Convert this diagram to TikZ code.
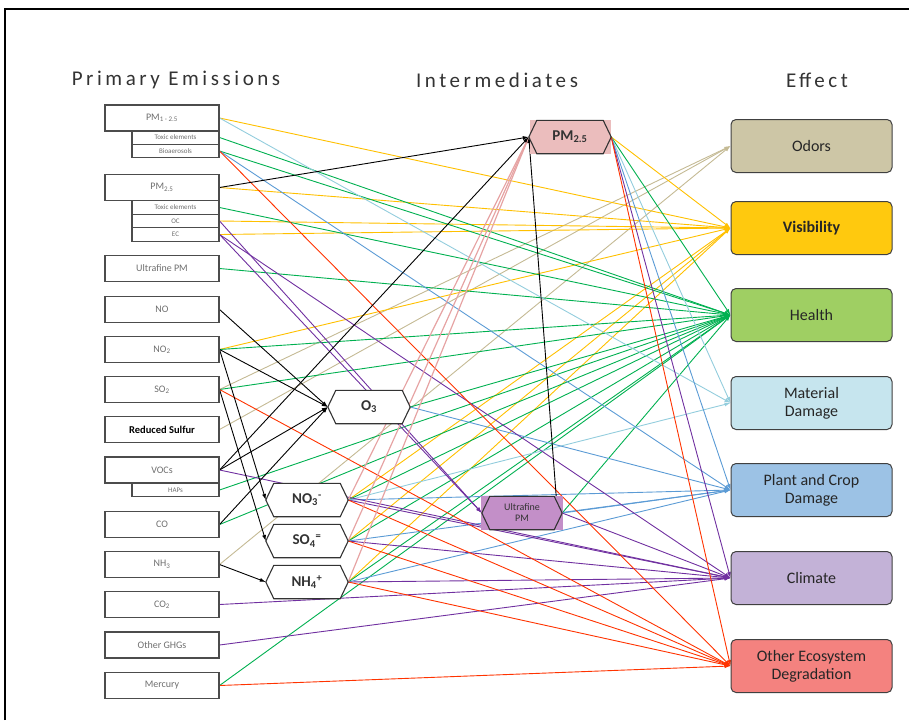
\documentclass[tikz,border=0pt]{standalone}
\usepackage{fontspec}
\setmainfont{Carlito}
\newfontfamily\headfont[LetterSpace=17]{Carlito}
\usepackage{tikz}
\usetikzlibrary{positioning}
\usetikzlibrary{arrows.meta}

\definecolor{cOdor}{HTML}{C4BA94}
\definecolor{cVis}{HTML}{FFC000}
\definecolor{cHealth}{HTML}{00B050}
\definecolor{cMat}{HTML}{93CDDD}
\definecolor{cPlant}{HTML}{5B9BD5}
\definecolor{cClim}{HTML}{7030A0}
\definecolor{cEco}{HTML}{FF3300}
\definecolor{cPink}{HTML}{E6A3A3}
\definecolor{fOdor}{HTML}{CDC6A6}
\definecolor{fVis}{HTML}{FFC90E}
\definecolor{fHealth}{HTML}{9FCF63}
\definecolor{fMat}{HTML}{C6E5EE}
\definecolor{fPlant}{HTML}{9CC2E5}
\definecolor{fClim}{HTML}{C3B2D7}
\definecolor{fEco}{HTML}{F4827F}
\definecolor{fPm}{HTML}{EBBDBD}
\definecolor{fUf}{HTML}{C38FC8}
\definecolor{txtgray}{HTML}{6E6E6E}

\pgfdeclarelayer{links}
\pgfdeclarelayer{shapes}
\pgfsetlayers{links,shapes,main}

% hexagon: name, position, fill, text
\newcommand{\hexnode}[4]{%
  \node[hexlabel] (#1) at (#2) {#4};
  \begin{pgfonlayer}{shapes}
    \draw[hexline, fill=#3] (#1.west) -- ([xshift=8pt]#1.north west)
      -- ([xshift=-8pt]#1.north east) -- (#1.east)
      -- ([xshift=-8pt]#1.south east) -- ([xshift=8pt]#1.south west) -- cycle;
  \end{pgfonlayer}}

\begin{document}
\begin{tikzpicture}[x=1pt,y=-1pt]
    \tikzstyle{src}=[draw=black!70, line width=1.1pt, minimum width=114pt, minimum height=26pt,
      inner sep=0pt, text=txtgray, font=\fontsize{10}{11}\selectfont]
    \tikzstyle{sub}=[src, minimum width=87pt, minimum height=13.5pt, font=\fontsize{7}{7}\selectfont]
    \tikzstyle{hexlabel}=[minimum width=82pt, minimum height=33pt, inner sep=0pt,
      font=\fontsize{15}{16}\selectfont\bfseries, text=black!80]
    \tikzstyle{hexline}=[draw=black!80, line width=1.1pt]
    \tikzstyle{eff}=[draw=black!75, line width=1pt, rounded corners=5pt, minimum width=161pt,
      minimum height=53pt, align=center, font=\fontsize{16}{18}\selectfont, text=black!85]
    \tikzstyle{head}=[font=\headfont\fontsize{21}{23}\selectfont, text=black!80]
    \tikzstyle{link}=[line width=0.9pt, -{Latex[length=6pt,width=4pt]}]

    \useasboundingbox (0,0) rectangle (909,720);
    \draw[line width=2.5pt] (5,720) -- (5,9) -- (909,9);

    \node[head] (thead1) at (176,80) {Primary Emissions};
    \node[head] (thead2) at (497,80) {Intermediates};
    \node[head] (thead3) at (817,80) {Effect};

    % primary emissions
    \node[src] (pma) at (162,118) {PM\textsubscript{1 - 2.5}};
    \node[sub] (pmat) at (175.5,137.5) {Toxic elements};
    \node[sub] (pmab) at (175.5,151) {Bioaerosols};
    \node[src] (pmb) at (162,187.5) {PM\textsubscript{2.5}};
    \node[sub] (pmbt) at (175.5,207.5) {Toxic elements};
    \node[sub] (pmboc) at (175.5,221) {OC};
    \node[sub] (pmbec) at (175.5,234.5) {EC};
    \foreach \name/\y/\txt in {ufp/268.5/Ultrafine PM, no/309.5/NO, notwo/349.5/NO\textsubscript{2},
        sotwo/389.5/SO\textsubscript{2}, voc/470/VOCs, co/524.5/CO, nh/564.5/NH\textsubscript{3},
        cotwo/604.5/CO\textsubscript{2}, ghg/645/Other GHGs, hg/685.5/Mercury} {
      \node[src] (\name) at (162,\y) {\txt};
    }
    \node[src, text=black, font=\fontsize{10.5}{11}\selectfont\bfseries] (rs) at (162,429.5) {Reduced Sulfur};
    \node[sub] (haps) at (175.5,490) {HAPs};

    % intermediates
    \begin{pgfonlayer}{shapes}
      \fill[fPm] (530,120) rectangle (611,154);
      \fill[fUf] (481,496) rectangle (563,530);
    \end{pgfonlayer}
    \hexnode{pmi}{570,137}{fPm}{PM\textsubscript{2.5}}
    \hexnode{othree}{369,407}{white}{O\textsubscript{3}}
    \hexnode{nothree}{307,500}{white}{NO\textsubscript{3}\textsuperscript{-}}
    \hexnode{sofour}{307,541}{white}{SO\textsubscript{4}\textsuperscript{=}}
    \hexnode{nhfour}{307,582}{white}{NH\textsubscript{4}\textsuperscript{+}}
    \node[hexlabel, minimum width=80pt, align=center, font=\fontsize{10}{11}\selectfont] (ufi) at (522,513) {Ultrafine\\PM};
    \begin{pgfonlayer}{shapes}
      \draw[hexline, fill=fUf] (ufi.west) -- ([xshift=8pt]ufi.north west)
        -- ([xshift=-8pt]ufi.north east) -- (ufi.east)
        -- ([xshift=-8pt]ufi.south east) -- ([xshift=8pt]ufi.south west) -- cycle;
    \end{pgfonlayer}

    % effects
    \node[eff, fill=fOdor] (odor) at (811.5,146) {Odors};
    \node[eff, fill=fVis, font=\fontsize{16}{18}\selectfont\bfseries] (vis) at (811.5,228) {Visibility};
    \node[eff, fill=fHealth] (health) at (811.5,315) {Health};
    \node[eff, fill=fMat] (mat) at (811.5,403) {Material\\Damage};
    \node[eff, fill=fPlant] (plant) at (811.5,490) {Plant and Crop\\Damage};
    \node[eff, fill=fClim] (clim) at (811.5,578) {Climate};
    \node[eff, fill=fEco] (eco) at (811.5,666) {Other Ecosystem\\Degradation};

    \begin{pgfonlayer}{links}
      \foreach \s in {sotwo,rs,nh}
        \draw[link, cOdor] (\s.east) -- (odor.west);
      \foreach \s in {pma,pmb,pmboc,pmbec,notwo,nothree,sofour,nhfour,pmi}
        \draw[link, cVis] (\s.east) -- (vis.west);
      \foreach \s in {pmat,pmab,pmbt,ufp,notwo,sotwo,haps,co,hg,othree,nothree,sofour,nhfour,ufi,pmi}
        \draw[link, cHealth] (\s.east) -- (health.west);
      \foreach \s in {pma,nothree,pmi}
        \draw[link, cMat] (\s.east) -- (mat.west);
      \foreach \s in {pmab,othree,nothree,sofour,nhfour,ufi,pmi}
        \draw[link, cPlant] (\s.east) -- (plant.west);
      \foreach \s in {pmbec,voc,cotwo,ghg,nothree,sofour,nhfour,ufi,pmi}
        \draw[link, cClim] (\s.east) -- (clim.west);
      \foreach \s in {pmboc,pmbec}
        \draw[link, cClim] (\s.east) -- (ufi.west);
      \foreach \s in {pmab,sotwo,hg,nothree,sofour,nhfour,pmi}
        \draw[link, cEco] (\s.east) -- (eco.west);
      \foreach \s in {nothree,sofour,nhfour}
        \draw[link, cPink, line width=1.2pt] (\s.east) -- (pmi.west);
      \foreach \s in {pmb,voc}
        \draw[link, black] (\s.east) -- (pmi.west);
      \draw[link, black] ([xshift=-6pt]ufi.north east) -- (pmi.west);
      \foreach \s in {no,notwo,voc,co}
        \draw[link, black] (\s.east) -- (othree.west);
      \draw[link, black] (notwo.east) -- (nothree.west);
      \draw[link, black] (sotwo.east) -- (sofour.west);
      \draw[link, black] (nh.east) -- (nhfour.west);
    \end{pgfonlayer}
\end{tikzpicture}
\end{document}
